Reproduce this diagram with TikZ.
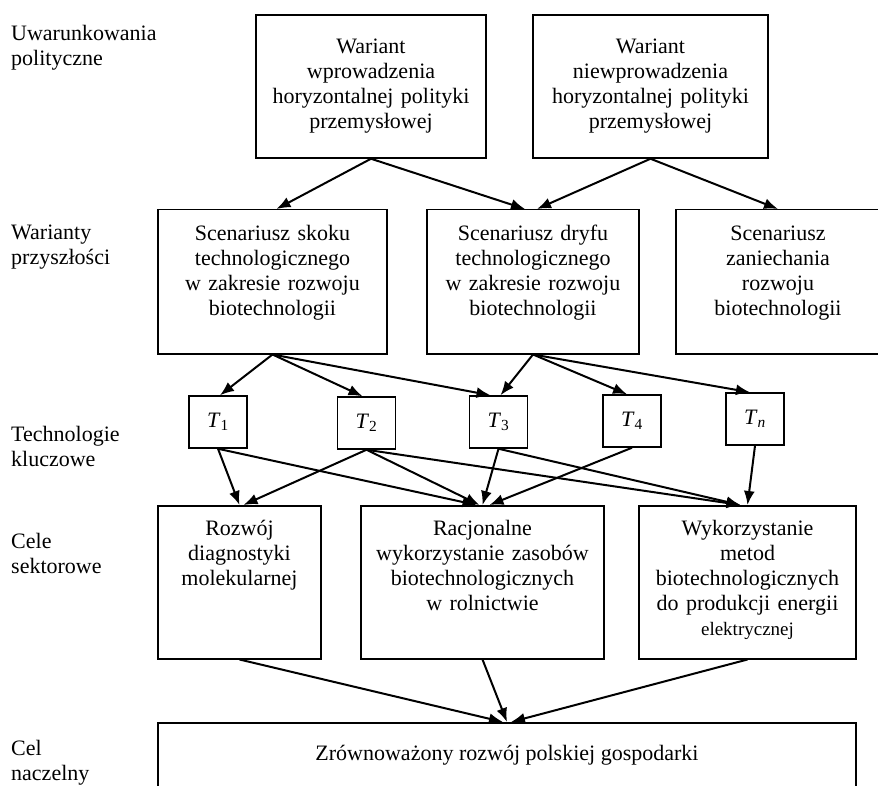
\documentclass[tikz,border=0pt]{standalone}
\usepackage{fontspec}
\setmainfont{Liberation Serif}
\usetikzlibrary{arrows.meta}
\tikzstyle{rowname}=[anchor=base west,text width=150pt,align=left,inner sep=0pt]
\tikzstyle{variant}=[draw,line width=1.5pt,inner xsep=2pt,inner ysep=0pt,minimum height=143pt,align=center]
\tikzstyle{scen}=[draw,line width=1.5pt,anchor=north,inner xsep=2pt,inner ysep=16pt,text height=15pt,text depth=97pt,align=center]
\tikzstyle{goal}=[draw,line width=1.5pt,anchor=north,inner xsep=2pt,inner ysep=15pt,text height=15pt,text depth=108pt,align=center]
\tikzstyle{tech}=[draw,line width=1.5pt,minimum width=58pt,minimum height=52pt,inner sep=0pt]
\tikzstyle{arr}=[-{Latex[length=14pt,width=11pt]},line width=2pt]

\begin{document}
\begin{tikzpicture}[x=1pt,y=-1pt,font=\fontsize{22}{25}\selectfont]
\useasboundingbox (0,0) rectangle (878,786);
\node[rowname] (r1) at (11,41) {Uwarunkowania\\polityczne};
\node[rowname] (r2) at (11,240) {Warianty\\przyszłości};
\node[rowname] (r3) at (11,441) {Technologie\\kluczowe};
\node[rowname] (r4) at (11,548) {Cele\\sektorowe};
\node[rowname] (r5) at (11,755) {Cel\\naczelny};
\node[variant,text width=226pt] (w1) at (371,86.5) {Wariant\\wprowadzenia\\horyzontalnej polityki\\przemysłowej};
\node[variant,text width=231pt] (w2) at (650.5,86.5) {Wariant\\niewprowadzenia\\horyzontalnej polityki\\przemysłowej};
\node[scen,text width=225pt] (s1) at (272.5,209) {Scenariusz skoku\\technologicznego\\w zakresie rozwoju\\biotechnologii};
\node[scen,text width=208pt] (s2) at (533,209) {Scenariusz dryfu\\technologicznego\\w zakresie rozwoju\\biotechnologii};
\node[scen,text width=200pt] (s3) at (778,209) {Scenariusz\\zaniechania\\rozwoju\\biotechnologii};
\node[tech] (t1) at (218,422) {\textit{T}\textsubscript{1}};
\node[tech] (t2) at (366.5,423) {\textit{T}\textsubscript{2}};
\node[tech] (t3) at (498.5,422) {\textit{T}\textsubscript{3}};
\node[tech] (t4) at (632,421) {\textit{T}\textsubscript{4}};
\node[tech] (tn) at (755,419) {\textit{T}\textsubscript{\textit{n}}};
\node[goal,text width=159pt] (c1) at (239.5,505) {Rozwój\\diagnostyki\\molekularnej};
\node[goal,text width=239pt] (c2) at (482.5,505) {Racjonalne\\wykorzystanie zasobów\\biotechnologicznych\\w rolnictwie};
\node[goal,text width=213pt] (c3) at (747.5,505) {Wykorzystanie\\metod\\biotechnologicznych\\do produkcji energii\\{\fontsize{19}{24}\selectfont elektrycznej}};
\node[draw,line width=1.5pt,anchor=north,minimum width=698pt,inner ysep=23pt,text height=15pt,text depth=8pt] (cel) at (507,722) {Zrównoważony rozwój polskiej gospodarki};
\draw[arr] (w1.south) -- ([xshift=4pt]s1.north);
\draw[arr] (w1.south) -- ([xshift=-8pt]s2.north);
\draw[arr] (w2.south) -- ([xshift=4pt]s2.north);
\draw[arr] (w2.south) -- (s3.north);
\draw[arr] (s1.south) -- ([xshift=2pt]t1.north);
\draw[arr] (s1.south) -- ([xshift=-4pt]t2.north);
\draw[arr] (s1.south) -- ([xshift=-8pt]t3.north);
\draw[arr] (s2.south) -- ([xshift=2pt]t3.north);
\draw[arr] (s2.south) -- ([xshift=-5pt]t4.north);
\draw[arr] (s2.south) -- ([xshift=-5pt]tn.north);
\draw[arr] (t1.south) -- (c1.north);
\draw[arr] (t2.south) -- ([xshift=4pt]c1.north);
\draw[arr] (t1.south) -- ([xshift=-6pt]c2.north);
\draw[arr] (t2.south) -- ([xshift=-3pt]c2.north);
\draw[arr] (t3.south) -- (c2.north);
\draw[arr] (t4.south) -- ([xshift=7pt]c2.north);
\draw[arr] (t2.south) -- ([xshift=-7pt]c3.north);
\draw[arr] (t3.south) -- ([xshift=-7pt]c3.north);
\draw[arr] (tn.south) -- (c3.north);
\draw[arr] (c1.south) -- ([xshift=-4pt]cel.north);
\draw[arr] (c2.south) -- (cel.north);
\draw[arr] (c3.south) -- ([xshift=4pt]cel.north);
\end{tikzpicture}
\end{document}
